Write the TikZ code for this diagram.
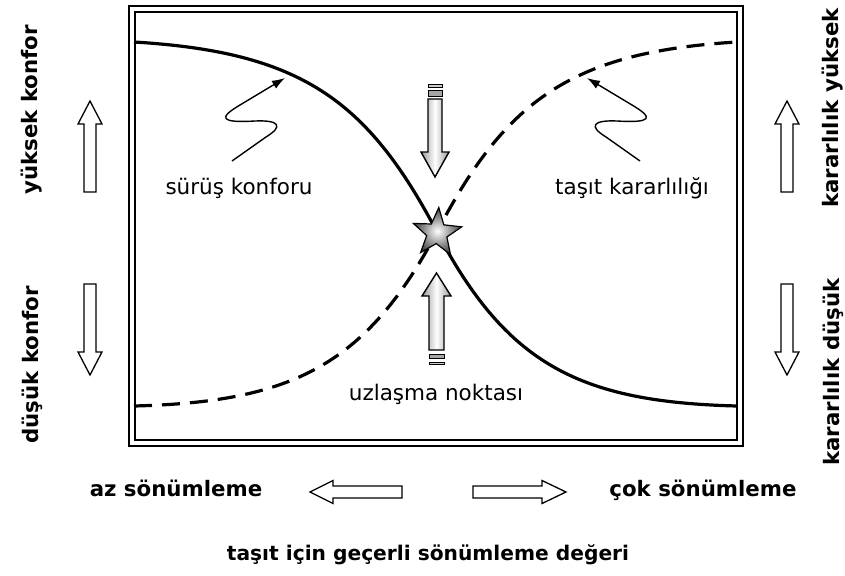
\documentclass[tikz,border=0pt]{standalone}
\usepackage{fontspec}
\setmainfont{DejaVu Sans}
\usetikzlibrary{arrows.meta,shapes.geometric}
\begin{document}
\begin{tikzpicture}[x=1pt,y=-1pt,
  lbl/.style={font=\fontsize{21.5}{25}\selectfont, inner sep=0pt, anchor=base},
  blbl/.style={font=\fontsize{21.3}{25}\selectfont\bfseries, inner sep=0pt},
  hollow/.style={draw=black, line width=1.3pt, fill=white, line join=miter},
  curve/.style={line width=3.2pt},
  ptr/.style={line width=1.4pt, -{Latex[length=13pt,width=9pt]}},
  bar/.style={draw=black, line width=1pt},
  greyarrow/.style={draw=black, line width=1.4pt, left color=gray!80, right color=gray!80, middle color=white},
]
\useasboundingbox (0,0) rectangle (845,575);

% double frame
\coordinate (oTL) at (129,6);   \coordinate (oBR) at (743,446);
\coordinate (iTL) at (135,12);  \coordinate (iBR) at (737,440);
\draw[line width=2.2pt] (oTL) rectangle (oBR);
\draw[line width=1.6pt] (iTL) rectangle (iBR);

% curve end points and crossing point
\coordinate (sA) at (134,42);
\coordinate (sB) at (737,406);
\coordinate (dA) at (134,406);
\coordinate (dB) at (737,42);
\coordinate (mid) at (437,232);

% ride comfort (solid) and vehicle stability (dashed)
\draw[curve] (sA) .. controls (300,52) and (367,99) .. (mid)
                  .. controls (507,365) and (580,402) .. (sB);
\draw[curve, dash pattern=on 18pt off 10pt] (dA) .. controls (293,402) and (366,365) .. (mid)
                  .. controls (506,99) and (573,52) .. (dB);

% shaded arrows pointing at the crossing
\draw[greyarrow] (428,99) -- (442,99) -- (442,152) -- (449,152) -- (435,177)
   -- (421,152) -- (428,152) -- cycle;
\draw[bar, fill=gray!40] (428,85) rectangle (442,87.5);
\draw[bar, fill=gray!70] (428,91) rectangle (442,96.5);

\draw[greyarrow] (429,350) -- (444,350) -- (444,296) -- (451,296) -- (436.5,273)
   -- (422,296) -- (429,296) -- cycle;
\draw[bar, fill=gray!70] (429,354) rectangle (444,358.5);
\draw[bar, fill=gray!40] (429,362) rectangle (444,364.5);

% compromise point
\node[star, star points=5, star point ratio=2.4, minimum size=51pt, inner sep=0pt,
      rotate=-4, draw=black, line width=1.2pt, inner color=white, outer color=black!75]
      (meet) at (437,233) {};

% inner labels
\node[lbl] (comfort) at (239,194) {sürüş konforu};
\node[lbl] (stab) at (632,194) {taşıt kararlılığı};
\node[lbl] (uzl) at (436,400) {uzlaşma noktası};

% wavy pointers from the labels to the curves
\coordinate (cS) at (232,161);
\coordinate (cT) at (285,78);
\coordinate (kS) at (640,161);
\coordinate (kT) at (587,78);
\draw[ptr] (cS) -- (266,137) .. controls (284,126) and (279,120) .. (255,121)
   .. controls (220,123) and (218,118) .. (240,105) -- (cT);
\draw[ptr] (kS) -- (606,137) .. controls (588,126) and (593,120) .. (617,121)
   .. controls (652,123) and (654,118) .. (632,105) -- (kT);

% side block arrows
\draw[hollow] (84,192) -- (84,124) -- (78,124) -- (90,101) -- (102,124) -- (96,124) -- (96,192) -- cycle;
\draw[hollow] (84,284) -- (84,352) -- (78,352) -- (90,375) -- (102,352) -- (96,352) -- (96,284) -- cycle;
\draw[hollow] (781,192) -- (781,124) -- (775,124) -- (787,101) -- (799,124) -- (793,124) -- (793,192) -- cycle;
\draw[hollow] (781,284) -- (781,352) -- (775,352) -- (787,375) -- (799,352) -- (793,352) -- (793,284) -- cycle;

% bottom block arrows
\draw[hollow] (402,486) -- (333,486) -- (333,480.5) -- (310,492) -- (333,503.5) -- (333,498) -- (402,498) -- cycle;
\draw[hollow] (473,486) -- (542,486) -- (542,480.5) -- (566,492) -- (542,503.5) -- (542,498) -- (473,498) -- cycle;

% outer labels
\node[blbl, rotate=90] (hiC) at (32,110) {yüksek konfor};
\node[blbl, rotate=90] (loC) at (32,365) {düşük konfor};
\node[blbl, rotate=90] (hiS) at (833,108) {kararlılık yüksek};
\node[blbl, rotate=90] (loS) at (833,372) {kararlılık düşük};
\node[blbl, anchor=base] (az) at (176,496) {az sönümleme};
\node[blbl, anchor=base] (cok) at (703,496) {çok sönümleme};
\node[blbl, anchor=base, font=\fontsize{20.2}{24}\selectfont\bfseries] (axis) at (428,560) {taşıt için geçerli sönümleme değeri};
\end{tikzpicture}
\end{document}
